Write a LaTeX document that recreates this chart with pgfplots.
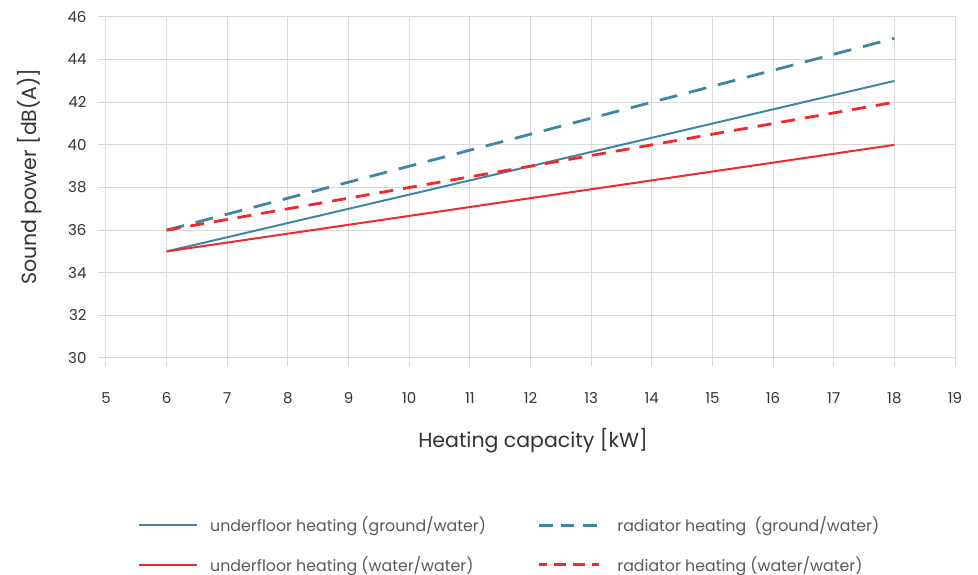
\documentclass[border=0pt]{standalone}
\usepackage{pgfplots}
\pgfplotsset{compat=1.18}
\usepackage{fontspec}
\setmainfont{Poppins}
\definecolor{cblue}{HTML}{3F86A2}
\definecolor{cred}{HTML}{EE2A2E}
\definecolor{cgrid}{HTML}{D9D9D9}
\definecolor{ctick}{HTML}{333333}
\definecolor{clegend}{HTML}{595959}
\pgfplotsset{
  blueleg/.style={legend image code/.code={\path[draw=none] (0pt,0pt) -- (66pt,0pt);\draw[cblue, solid, line width=2.8pt] (0pt,0pt) -- (13.3pt,0pt) (21.7pt,0pt) -- (35pt,0pt) (44pt,0pt) -- (57.4pt,0pt);}},
  redleg/.style={legend image code/.code={\path[draw=none] (0pt,0pt) -- (66pt,0pt);\draw[cred, solid, line width=2.8pt] (0pt,0pt) -- (7.5pt,0pt) (14.5pt,0pt) -- (26.5pt,0pt) (33.5pt,0pt) -- (45.5pt,0pt) (52.5pt,0pt) -- (60pt,0pt);}}
}
\begin{document}
\begin{tikzpicture}[x=1pt,y=1pt]
\useasboundingbox (0,0) rectangle (978,575);
\begin{axis}[
  at={(106pt,217pt)}, anchor=south west,
  scale only axis, width=849pt, height=341pt,
  xmin=5, xmax=19, ymin=30, ymax=46,
  xtick={5,...,19}, ytick={30,32,...,46},
  grid=major, grid style={draw=cgrid, line width=1pt},
  axis line style={draw=cgrid, line width=1pt},
  tick style={draw=cgrid, line width=1pt},
  tick align=outside, major tick length=8pt,
  tick pos=left,
  /pgf/number format/assume math mode=true,
  ticklabel style={font=\fontsize{15}{18}\selectfont, text=ctick},
  xticklabel style={yshift=-23pt},
  yticklabel style={xshift=-8pt},
  xlabel={Heating capacity [kW]},
  ylabel={Sound power [dB(A)]},
  label style={font=\fontsize{20.5}{24}\selectfont, text=ctick},
  xlabel style={at={(axis description cs:0.503,-0.243)}, anchor=center},
  ylabel style={at={(axis description cs:-0.0895,0.532)}, anchor=center, rotate=0},
  legend columns=2,
  legend cell align=left,
  legend style={at={(0.0377,-0.46)}, anchor=north west, draw=none, fill=none,
    font=\fontsize{15.8}{19}\selectfont, text=clegend, inner sep=0pt,
    row sep=19pt,
    /tikz/every odd column/.append style={column sep=10pt},
    /tikz/every even column/.append style={column sep=50pt}},
  legend image code/.code={\draw[#1] (0pt,0pt) -- (58pt,0pt);},
]
\addplot[cblue, line width=2pt] coordinates {(6,35) (18,43)};
\addlegendentry{underfloor heating (ground/water)}
\addplot[cblue, line width=2.8pt, dash pattern=on 18pt off 12pt, blueleg] coordinates {(6,36) (18,45)};
\addlegendentry{radiator heating\ \ (ground/water)}
\addplot[cred, line width=2pt] coordinates {(6,35) (18,40)};
\addlegendentry{underfloor heating (water/water)}
\addplot[cred, line width=2.8pt, dash pattern=on 14pt off 10pt, redleg] coordinates {(6,36) (18,42)};
\addlegendentry{radiator heating (water/water)}
\end{axis}
\end{tikzpicture}
\end{document}
